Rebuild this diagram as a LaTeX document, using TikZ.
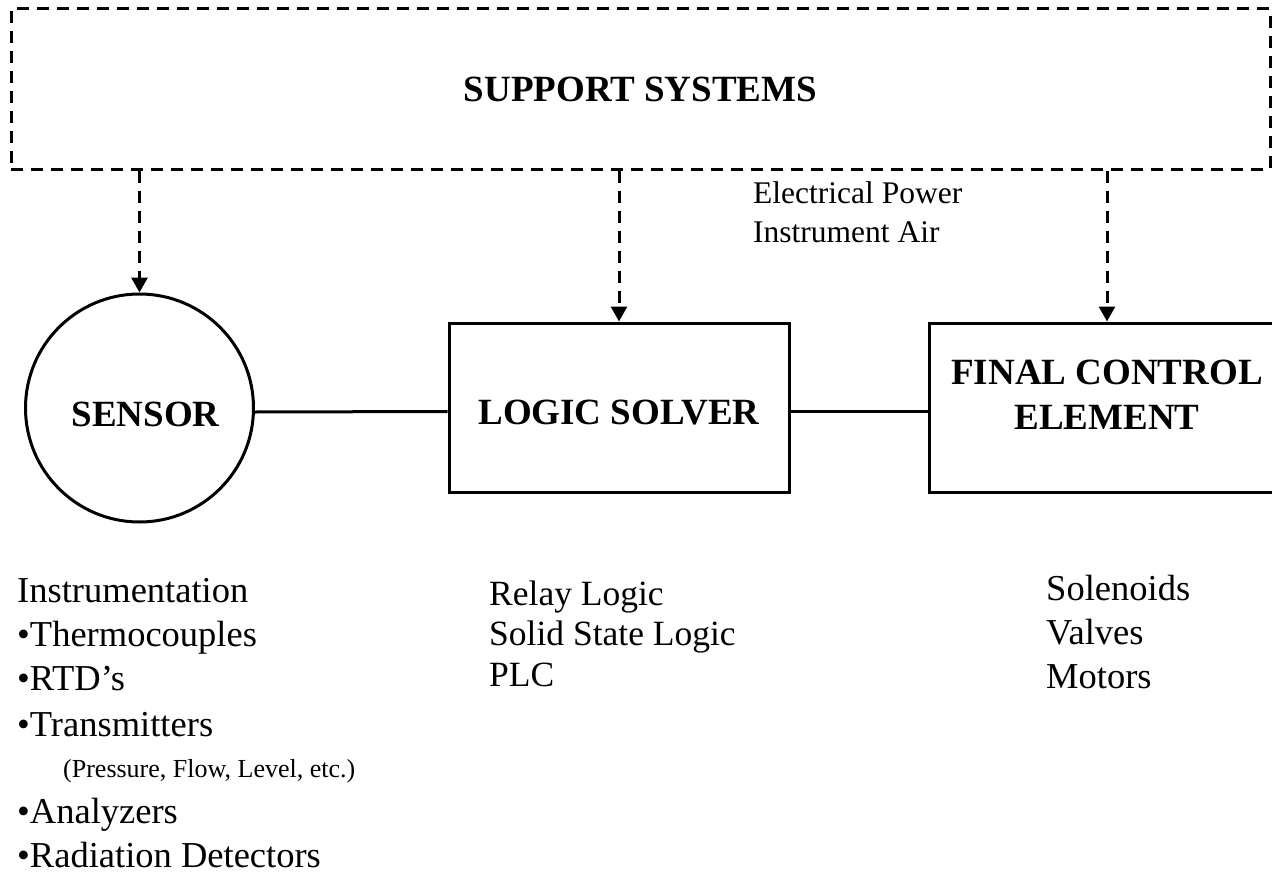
\documentclass[tikz,border=0pt]{standalone}
\usepackage{fontspec}
\setmainfont{Liberation Serif}
\usetikzlibrary{arrows.meta}
\begin{document}
\begin{tikzpicture}[x=1pt,y=-1pt,
  solidline/.style={line width=3pt},
  dashline/.style={line width=3pt, dash pattern=on 12pt off 8pt},
  arr/.style={-{Triangle[width=16pt,length=15pt]}},
  boxtitle/.style={font=\fontsize{37pt}{45pt}\selectfont\bfseries},
  listtxt/.style={font=\fontsize{36.5pt}{44pt}\selectfont, anchor=base west, inner sep=0pt},
  midtxt/.style={font=\fontsize{35.5pt}{42pt}\selectfont, anchor=base west, inner sep=0pt},
  smalltxt/.style={font=\fontsize{26pt}{31pt}\selectfont, anchor=base west, inner sep=0pt},
  notetxt/.style={font=\fontsize{31.5pt}{38pt}\selectfont, anchor=base west, inner sep=0pt}]
\useasboundingbox (0,0) rectangle (1272,875);
\clip (0,0) rectangle (1272,875);
\fill[white] (0,0) rectangle (1272,875);

% blocks
\node[draw, dashline, minimum width=1259pt, minimum height=160pt, inner sep=0pt, boxtitle]
  (supp) at (640.5,89) {SUPPORT SYSTEMS};
\node[draw, circle, solidline, minimum size=228pt, inner sep=0pt, boxtitle, text height=37pt]
  (sensor) at (139.5,408) {\hspace*{12pt}SENSOR};
\node[draw, rectangle, solidline, minimum width=340pt, minimum height=169pt, inner sep=0pt, boxtitle, text height=35pt]
  (logic) at (619,407.5) {LOGIC SOLVER};
\node[draw, rectangle, solidline, minimum width=356pt, minimum height=169pt, inner sep=0pt, align=center, boxtitle, text height=44pt]
  (final) at (1107,407.5) {FINAL CONTROL\\ELEMENT};

% support connectors
\draw[dashline, arr] (sensor.north |- supp.south) -- (sensor.north);
\draw[dashline, arr] (logic.north |- supp.south) -- (logic.north);
\draw[dashline, arr] (final.north |- supp.south) -- (final.north);

% signal path
\draw[solidline] ([yshift=-4pt]sensor.east) -- ([yshift=-4pt]logic.west);
\draw[solidline] ([yshift=-4pt]logic.east) -- ([yshift=-4pt]final.west);

% support note
\node[notetxt] (power) at (753,203) {Electrical Power};
\node[notetxt] (air) at (753,242) {Instrument Air};

% sensor list
\node[listtxt] (s1) at (17,602) {Instrumentation};
\node[listtxt] (s2) at (17,646) {•Thermocouples};
\node[listtxt] (s3) at (17,690) {•RTD’s};
\node[listtxt] (s4) at (17,736) {•Transmitters};
\node[smalltxt] (s5) at (63,777) {(Pressure, Flow, Level, etc.)};
\node[listtxt] (s6) at (17,823) {•Analyzers};
\node[listtxt] (s7) at (17,867) {•Radiation Detectors};

% logic list
\node[midtxt] (m1) at (489,605) {Relay Logic};
\node[midtxt] (m2) at (489,645) {Solid State Logic};
\node[midtxt] (m3) at (489,686) {PLC};

% final element list
\node[listtxt] (f1) at (1046,600) {Solenoids};
\node[listtxt] (f2) at (1046,644) {Valves};
\node[listtxt] (f3) at (1046,688) {Motors};
\end{tikzpicture}
\end{document}
